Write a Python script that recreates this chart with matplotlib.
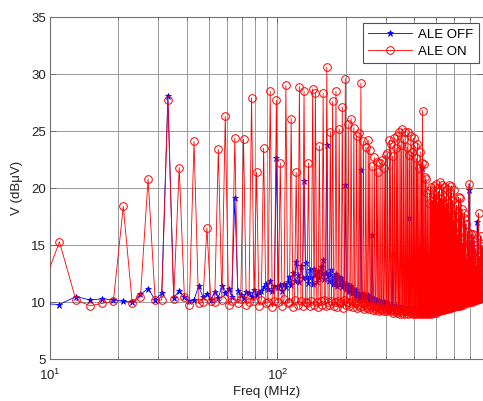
import numpy as np
import matplotlib
matplotlib.use("Agg")
import matplotlib.pyplot as plt
from matplotlib.ticker import FixedLocator, NullFormatter

plt.rcParams['font.family'] = ['Liberation Sans', 'DejaVu Sans']

# sweep points, 2 MHz step
freq = np.arange(9, 800, 2)

# ALE ON spectrum (dBuV), 10 points per row
ale_on = [
    10.6, 15.3, 10.2, 9.7, 9.9, 10.1, 18.4, 9.9, 10.5, 20.8,      # 9-27
    10.2, 10.2, 27.7, 10.3, 21.8, 10.5, 9.8, 24.1, 9.9, 10.0,     # 29-47
    16.5, 10.1, 10.0, 23.4, 10.2, 26.3, 9.8, 10.1, 24.4, 9.9,     # 49-67
    10.3, 24.3, 9.8, 10.0, 27.9, 10.1, 21.4, 9.7, 10.2, 23.5,     # 69-87
    9.9, 10.0, 28.5, 9.6, 10.1, 27.7, 10.0, 22.2, 9.7, 10.3,      # 89-107
    29.0, 9.9, 10.0, 26.1, 9.6, 10.2, 21.4, 9.8, 28.9, 10.1,      # 109-127
    9.7, 28.5, 10.0, 9.9, 22.2, 9.7, 10.1, 28.7, 9.8, 28.3,       # 129-147
    10.0, 9.6, 23.7, 10.1, 9.8, 28.3, 10.2, 9.7, 30.6, 10.0,      # 149-167
    9.8, 24.9, 10.1, 27.6, 9.7, 10.0, 28.5, 9.6, 10.1, 25.2,      # 169-187
    9.9, 10.0, 27.1, 9.5, 10.2, 29.6, 9.8, 10.0, 25.6, 9.7,       # 189-207
    9.9, 26.1, 10.1, 9.6, 25.3, 9.9, 10.0, 24.6, 9.5, 9.8,        # 209-227
    24.8, 9.6, 29.2, 9.7, 9.9, 24.1, 9.4, 9.8, 23.6, 9.5,         # 229-247
    9.7, 24.2, 9.4, 23.3, 9.6, 9.8, 21.9, 9.3, 9.7, 22.7,         # 249-267
    9.5, 9.3, 22.3, 9.6, 21.4, 9.2, 9.5, 22.2, 9.4, 9.3,          # 269-287
    22.5, 9.4, 9.2, 21.8, 9.5, 22.9, 9.3, 9.2, 23.1, 9.4,         # 289-307
    9.5, 24.2, 9.3, 23.9, 9.2, 9.4, 22.8, 9.1, 9.3, 24.4,         # 309-327
    9.2, 9.4, 23.5, 9.1, 24.6, 9.3, 9.2, 24.9, 9.0, 9.4,          # 329-347
    23.8, 9.2, 25.2, 9.1, 9.3, 24.3, 9.0, 9.2, 24.9, 9.3,         # 349-367
    9.1, 23.6, 9.2, 24.9, 9.0, 9.3, 22.9, 9.1, 9.2, 24.6,         # 369-387
    9.3, 23.2, 9.1, 9.0, 24.4, 9.2, 9.1, 23.7, 9.3, 9.0,          # 389-407
    22.6, 9.2, 23.9, 9.1, 9.3, 21.8, 9.0, 9.2, 23.2, 9.1,         # 409-427
    9.3, 22.2, 9.0, 26.8, 9.2, 9.1, 22.1, 9.3, 9.0, 21.0,         # 429-447
    9.2, 20.8, 9.1, 9.3, 19.6, 9.0, 9.2, 18.7, 9.1, 9.3,          # 449-467
    19.8, 9.2, 20.1, 9.0, 9.3, 18.9, 9.1, 9.2, 19.5, 9.1,         # 469-487
    9.3, 20.2, 9.2, 19.4, 9.1, 9.4, 20.4, 9.2, 9.3, 18.8,         # 489-507
    9.2, 19.7, 9.4, 9.3, 20.5, 9.2, 9.4, 19.1, 9.3, 9.5,          # 509-527
    20.3, 9.3, 18.6, 9.5, 9.4, 20.1, 9.3, 9.5, 19.2, 9.4,         # 529-547
    18.3, 9.5, 9.4, 19.9, 9.6, 9.5, 18.7, 9.4, 9.6, 20.3,         # 549-567
    9.5, 17.9, 9.6, 9.5, 19.6, 9.7, 9.5, 20.2, 9.6, 9.7,          # 569-587
    18.9, 9.6, 17.2, 9.8, 9.7, 19.8, 9.6, 9.8, 18.1, 9.7,         # 589-607
    16.8, 9.8, 9.7, 18.5, 9.9, 9.8, 15.9, 9.7, 9.9, 19.2,         # 609-627
    9.8, 17.6, 9.9, 9.7, 19.1, 10.0, 9.8, 16.3, 9.9, 18.2,        # 629-647
    10.0, 9.9, 15.2, 10.1, 9.8, 17.4, 10.0, 9.9, 17.8, 10.1,      # 649-667
    14.6, 10.0, 10.2, 16.9, 10.1, 9.9, 13.8, 10.2, 10.0, 16.2,    # 669-687
    10.1, 12.9, 10.0, 10.2, 20.4, 10.1, 10.3, 15.1, 10.0, 13.4,   # 689-707
    10.2, 10.1, 16.0, 10.3, 10.2, 14.2, 10.0, 10.3, 16.0, 10.2,   # 709-727
    12.4, 10.1, 10.3, 15.3, 10.2, 10.4, 11.9, 10.2, 14.7, 10.3,   # 729-747
    10.4, 13.2, 10.2, 10.3, 15.6, 10.5, 10.3, 12.1, 10.4, 17.8,   # 749-767
    10.3, 10.5, 14.0, 10.4, 10.6, 12.6, 10.3, 10.5, 15.8, 10.4,   # 769-787
    13.1, 10.5, 10.6, 14.9, 10.4, 10.6,                           # 789-799
]

# ALE OFF spectrum (dBuV)
ale_off = [
    9.9, 9.8, 10.5, 10.2, 10.3, 10.2, 10.1, 10.0, 10.7, 11.2,     # 9-27
    10.2, 10.8, 28.1, 10.4, 11.0, 10.5, 10.1, 10.2, 11.4, 10.5,   # 29-47
    10.7, 10.2, 10.9, 10.4, 11.4, 10.8, 11.2, 10.5, 19.1, 11.0,   # 49-67
    10.6, 10.4, 10.9, 10.8, 10.5, 11.1, 10.6, 10.9, 11.0, 11.3,   # 69-87
    11.6, 11.2, 11.9, 11.0, 11.4, 22.6, 11.3, 11.5, 11.0, 11.6,   # 89-107
    11.3, 11.8, 12.2, 11.5, 12.6, 11.9, 13.5, 12.4, 11.8, 13.2,   # 109-127
    12.1, 20.6, 13.4, 12.2, 11.7, 12.8, 12.2, 11.6, 12.9, 12.4,   # 129-147
    11.8, 12.7, 12.1, 13.1, 12.5, 13.7, 12.0, 12.6, 23.8, 12.3,   # 149-167
    11.9, 12.4, 12.8, 11.6, 12.2, 11.7, 12.5, 11.4, 12.0, 12.2,   # 169-187
    11.6, 12.1, 11.3, 11.8, 11.5, 20.3, 11.2, 11.6, 11.0, 11.3,   # 189-207
    11.0, 11.4, 10.8, 11.2, 10.9, 10.6, 11.1, 10.6, 10.8, 10.5,   # 209-227
    10.7, 10.4, 21.6, 10.6, 10.3, 10.7, 10.2, 10.6, 10.4, 10.5,   # 229-247
    10.3, 10.6, 10.2, 10.5, 10.1, 10.4, 15.9, 10.2, 10.0, 10.3,   # 249-267
    10.1, 10.2, 10.0, 10.2, 9.9, 10.1, 10.0, 9.8, 10.1, 9.9,      # 269-287
    9.9, 9.8, 10.0, 9.7, 9.9, 10.0, 9.8, 9.9, 9.7, 9.8,           # 289-307
    9.6, 9.7, 9.5, 9.8, 9.6, 9.5, 14.2, 9.7, 9.6, 9.5,            # 309-327
    9.6, 9.4, 9.7, 9.5, 9.4, 9.6, 9.5, 9.3, 9.6, 9.4,             # 329-347
    9.5, 9.3, 9.6, 9.4, 9.5, 9.3, 9.4, 9.5, 9.3, 9.4,             # 349-367
    9.5, 9.4, 9.3, 9.5, 9.4, 9.3, 17.4, 9.4, 9.5, 9.3,            # 369-387
    9.4, 9.3, 9.2, 9.4, 9.3, 9.2, 9.4, 9.3, 9.2, 9.3,             # 389-407
    9.2, 9.3, 9.4, 9.2, 9.3, 9.2, 9.1, 9.3, 9.2, 9.3,             # 409-427
    9.2, 21.8, 9.3, 9.1, 9.2, 9.3, 9.1, 9.2, 9.3, 9.1,            # 429-447
    9.2, 9.3, 9.1, 9.2, 9.3, 9.1, 9.2, 9.3, 9.2, 9.1,             # 449-467
    9.3, 9.2, 9.1, 9.3, 9.2, 9.4, 9.2, 9.3, 9.2, 9.4,             # 469-487
    9.3, 9.4, 9.2, 9.4, 9.3, 9.5, 9.3, 9.4, 9.3, 9.4,             # 489-507
    9.5, 9.3, 9.4, 9.5, 9.4, 9.3, 9.5, 9.4, 9.6, 9.4,             # 509-527
    9.5, 9.4, 9.6, 9.5, 9.4, 9.6, 9.5, 9.4, 9.6, 9.5,             # 529-547
    9.4, 9.6, 9.5, 9.4, 9.6, 9.5, 9.7, 9.5, 9.4, 9.6,             # 549-567
    9.5, 9.7, 9.6, 9.5, 9.7, 9.6, 9.5, 9.7, 9.6, 9.8,             # 569-587
    9.6, 9.8, 9.7, 9.6, 9.8, 9.7, 9.9, 9.7, 9.8, 9.6,             # 589-607
    9.8, 9.9, 9.7, 9.8, 10.0, 9.8, 9.9, 9.7, 9.9, 10.0,           # 609-627
    9.9, 10.0, 9.8, 10.1, 14.8, 9.9, 10.0, 10.1, 9.9, 10.0,       # 629-647
    10.1, 10.0, 10.2, 10.1, 9.9, 10.2, 10.1, 10.0, 12.6, 10.2,    # 649-667
    10.1, 10.2, 10.0, 10.3, 10.1, 10.2, 10.3, 10.1, 10.2, 10.0,   # 669-687
    10.2, 10.3, 10.1, 10.2, 19.8, 10.3, 10.2, 10.4, 10.1, 10.3,   # 689-707
    10.4, 10.2, 10.3, 10.5, 10.3, 15.2, 10.4, 10.2, 10.5, 10.3,   # 709-727
    10.4, 10.5, 10.3, 10.4, 10.6, 10.4, 10.5, 10.3, 10.6, 10.4,   # 729-747
    10.5, 10.4, 10.6, 10.5, 17.0, 10.4, 10.6, 10.5, 10.7, 10.5,   # 749-767
    10.6, 10.5, 10.7, 10.6, 10.5, 10.7, 10.6, 10.8, 10.6, 10.7,   # 769-787
    10.6, 10.8, 10.7, 10.6, 10.8, 10.7,                           # 789-799
]

fig = plt.figure(figsize=(4.83, 4.01), dpi=100)
ax = fig.add_axes([50 / 483, 1 - 359.3 / 401, 432.7 / 483, 342.3 / 401])

ax.plot(freq, ale_off, color='#0000ff', lw=0.6, marker='*', ms=4.5,
        mew=0.5, label='ALE OFF', zorder=3)
ax.plot(freq, ale_on, color='#ff0000', lw=0.6, marker='o', ms=5.5,
        mfc='none', mew=0.7, label='ALE ON', zorder=4)

ax.set_xscale('log')
ax.set_xlim(10, 800)
ax.set_ylim(5, 35)
ax.set_yticks(range(5, 36, 5))
ax.set_xticks([10, 100])
ax.set_xticklabels([r'$\mathdefault{10^{1}}$', r'$\mathdefault{10^{2}}$'])
ax.xaxis.set_minor_locator(FixedLocator(
    [20, 30, 40, 50, 60, 70, 80, 90, 200, 300, 400, 500, 600, 700]))
ax.xaxis.set_minor_formatter(NullFormatter())

ax.grid(True, which='major', color='#999999', lw=0.7)
ax.grid(True, which='minor', axis='x', color='#999999', lw=0.7)
ax.set_axisbelow(True)
ax.tick_params(which='both', direction='in', top=True, right=True,
               colors='#606060', labelcolor='#222222', labelsize=9.5)
ax.tick_params(which='major', length=4, width=0.6)
ax.tick_params(which='minor', length=2, width=0.5)
ax.tick_params(axis='y', pad=3)
ax.tick_params(axis='x', pad=6)
for sp in ax.spines.values():
    sp.set_color('#707070')
    sp.set_linewidth(0.8)

ax.set_xlabel('Freq (MHz)', fontsize=9.5, color='#222222', labelpad=2)
ax.set_ylabel('V (dB\u03bcV)', fontsize=9.5, color='#222222', labelpad=6)

leg = ax.legend(loc='upper right', bbox_to_anchor=(479 / 483, 1 - 23 / 401),
                bbox_transform=fig.transFigure, borderaxespad=0,
                fancybox=False, framealpha=1, edgecolor='#505050',
                fontsize=9.5, handlelength=3.3, handletextpad=0.5,
                labelspacing=0.4, borderpad=0.4)
leg.get_frame().set_linewidth(0.8)

fig.savefig('out.png', dpi=100)
